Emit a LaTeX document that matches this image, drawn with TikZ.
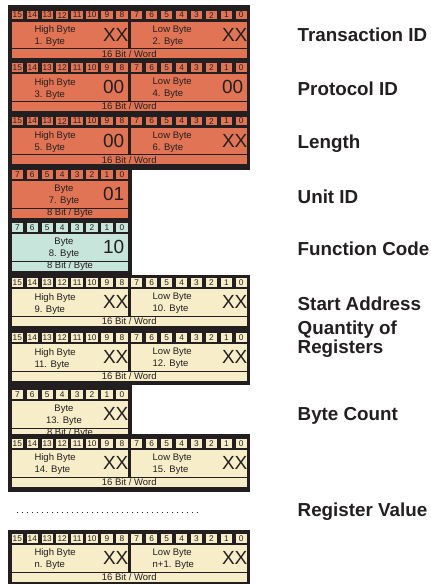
\documentclass[tikz,border=0pt]{standalone}
\usepackage{fontspec}
\setmainfont{Liberation Sans}
\definecolor{frame}{RGB}{35,31,32}
\definecolor{org}{RGB}{225,116,84}
\definecolor{mint}{RGB}{199,229,218}
\definecolor{cream}{RGB}{247,237,200}
\tikzset{
  bitnum/.style={font=\fontsize{8.3}{8.3}\selectfont, text=frame, inner sep=0pt},
  celltxt/.style={font=\fontsize{9.5}{12}\selectfont, text=frame, inner sep=0pt},
  bigval/.style={font=\fontsize{19}{19}\selectfont, text=frame, inner sep=0pt, anchor=east},
  fieldlbl/.style={font=\fontsize{18.8}{17.5}\selectfont\bfseries, text=frame, inner sep=0pt, anchor=base west, align=left},
  dotline/.style={frame, line width=1.2pt, dash pattern=on 1.2pt off 3.8pt},
}
% bit row: #1 top, #2 highest bit, #3 colour, #4 name prefix
\newcommand{\bitrow}[4]{%
  \foreach \i in {0,...,#2}{%
    \pgfmathtruncatemacro\bitlbl{#2-\i}%
    \fill[#3] ({11.7+14.93*\i},#1) rectangle ++(11.3,8.5);
    \node[bitnum] (#4\i) at ({11.7+14.93*\i+5.65},{#1+4.4}) {\bitlbl};
  }%
}
% 16-bit cells: #1 top, #2 colour, #3 name
\newcommand{\wordcells}[3]{%
  \bitrow{#1}{15}{#2}{#3}
  \fill[#2] (11.7,#1+11) rectangle (128.3,#1+37.5);
  \fill[#2] (130.7,#1+11) rectangle (247,#1+37.5);
  \fill[#2] (11.7,#1+38.5) rectangle (247,#1+47.5);
  \node[celltxt] (#3w) at (129.3,#1+43.2) {16 Bit / Word};
}
% 8-bit cells
\newcommand{\bytecells}[3]{%
  \bitrow{#1}{7}{#2}{#3}
  \fill[#2] (11.7,#1+11) rectangle (128.3,#1+37.5);
  \fill[#2] (11.7,#1+38.5) rectangle (128.3,#1+47.5);
  \node[celltxt] (#3w) at (70,#1+43.2) {8 Bit / Byte};
}
% word texts: #1 name, #2 centre y, #3 hi line, #4 left value, #5 x, #6 lo line, #7 right value, #8 x
\newcommand{\wordtext}[8]{%
  \node[celltxt,anchor=west,align=left] (#1hi) at (34.3,#2+1) {High Byte\\#3};
  \node[bigval] (#1vl) at (#5,#2-0.3) {#4};
  \node[celltxt,anchor=west,align=left] (#1lo) at (152.5,#2+1) {Low Byte\\#6};
  \node[bigval] (#1vr) at (#8,#2-0.3) {#7};
}
\newcommand{\bytetext}[5]{%
  \node[celltxt,align=center] (#1hi) at (64,#2+1) {Byte\\#3};
  \node[bigval] (#1v) at (#5,#2-0.3) {#4};
}
\begin{document}
\begin{tikzpicture}[x=1pt,y=-1pt]
\useasboundingbox (0,0) rectangle (431,584);
% group A
\fill[frame] (8,5) rectangle (250,169.5);
\wordcells{10.7}{org}{a}
\wordtext{a}{34.95}{1. Byte}{XX}{128.6}{2. Byte}{XX}{247.6}
\wordcells{63.3}{org}{b}
\wordtext{b}{87.55}{3. Byte}{00}{124.5}{4. Byte}{00}{243.5}
\wordcells{116.7}{org}{c}
\wordtext{c}{140.95}{5. Byte}{00}{124.5}{6. Byte}{XX}{247.6}
% group B
\fill[frame] (8,168.5) rectangle (132,274.5);
\bytecells{170}{org}{d}
\bytetext{d}{194.25}{7. Byte}{01}{124.5}
\bytecells{223.3}{mint}{e}
\bytetext{e}{247.55}{8. Byte}{10}{124.5}
% group C
\fill[frame] (8,274.5) rectangle (250,384.5);
\wordcells{278.3}{cream}{f}
\wordtext{f}{302.55}{9. Byte}{XX}{128.6}{10. Byte}{XX}{247.6}
\wordcells{333.3}{cream}{g}
\wordtext{g}{357.55}{11. Byte}{XX}{128.6}{12. Byte}{XX}{247.6}
% group D
\fill[frame] (8,384.5) rectangle (132,436);
\bytecells{390}{cream}{h}
\bytetext{h}{414.25}{13. Byte}{XX}{128.6}
% group E
\fill[frame] (8,434) rectangle (250,492);
\wordcells{439}{cream}{i}
\wordtext{i}{463.25}{14. Byte}{XX}{128.6}{15. Byte}{XX}{247.6}
% dotted continuation
\coordinate (dotA) at (16.7,512.5);
\coordinate (dotB) at (200,512.5);
\draw[dotline] (dotA) -- (dotB);
% group F
\fill[frame] (8,529.5) rectangle (250,584);
\wordcells{534}{cream}{j}
\wordtext{j}{558.25}{n. Byte}{XX}{128.6}{n+1. Byte}{XX}{247.6}
% field labels
\node[fieldlbl] (l1) at (297.5,41.8) {Transaction ID};
\node[fieldlbl] (l2) at (297.5,95.5) {Protocol ID};
\node[fieldlbl] (l3) at (297.5,148.5) {Length};
\node[fieldlbl] (l4) at (297.5,203.3) {Unit ID};
\node[fieldlbl] (l5) at (297.5,255.2) {Function Code};
\node[fieldlbl] (l6) at (297.5,310.2) {Start Address};
\node[fieldlbl] (l7) at (297.5,353.5) {Quantity of\\Registers};
\node[fieldlbl] (l8) at (297.5,420.2) {Byte Count};
\node[fieldlbl] (l9) at (297.5,516.8) {Register Value};
\end{tikzpicture}
\end{document}
